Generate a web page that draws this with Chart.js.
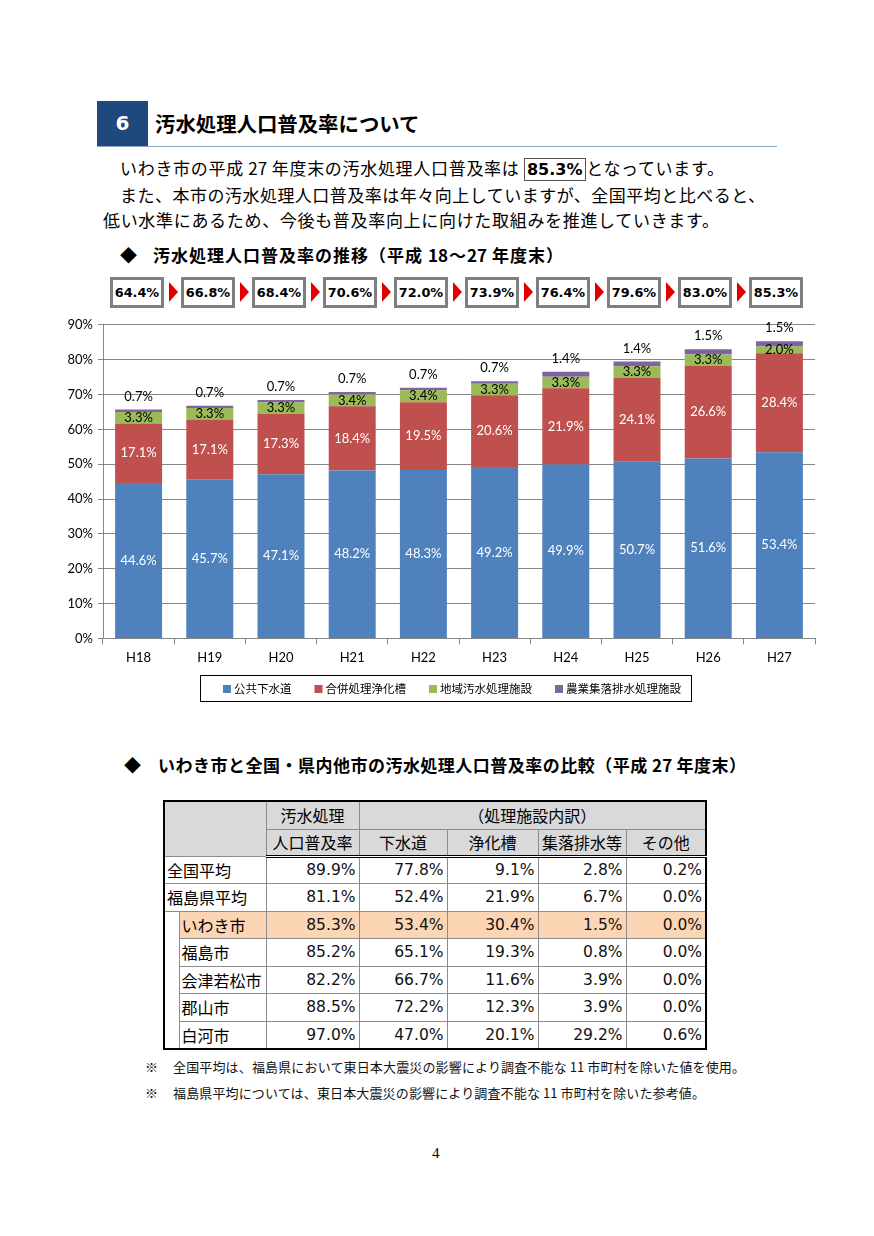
<!DOCTYPE html>
<html lang="ja">
<head>
<meta charset="UTF-8">
<title>汚水処理人口普及率について</title>
<script src="https://cdn.jsdelivr.net/npm/chart.js"></script>
<style>
  html, body { margin: 0; padding: 0; background: #fff; }
  body { width: 874px; height: 1236px; position: relative; overflow: hidden;
         font-family: "Noto Sans CJK JP", sans-serif; color: #000; }
  .abs { position: absolute; white-space: nowrap; }
  .just { text-align: justify; text-align-last: justify; white-space: normal; }
  .numbox { position: absolute; left: 97px; top: 101px; width: 51px; height: 45px; background: #1f497d;
            color: #fff; font: bold 20px "DejaVu Sans", sans-serif; text-align: center; line-height: 45px; }
  .title { left: 155px; top: 108px; font-size: 20.4px; font-weight: bold; line-height: 30px; }
  .rule { position: absolute; left: 97px; top: 146px; width: 680px; height: 0; border-top: 1.5px solid #8ea9c8; }
  .para { font-size: 17px; line-height: 24px; height: 24px; }
  .hl { font: bold 16px "DejaVu Sans", sans-serif; border: 1px solid #555; padding: 1px 2px; }
  .sub { font-size: 17px; font-weight: bold; line-height: 24px; height: 24px; }
  .tot { position: absolute; top: 277px; width: 48px; height: 25px; border: 3px solid #7f7f7f; background: #fff;
         font: bold 12.8px "DejaVu Sans", sans-serif; text-align: center; line-height: 25px; }
  .arrow { position: absolute; top: 282px; width: 0; height: 0; border-top: 10px solid transparent;
           border-bottom: 10px solid transparent; border-left: 9px solid #e00000; }
  #chartWrap { position: absolute; left: 50px; top: 312px; width: 790px; height: 395px; }
  table.cmp { position: absolute; left: 163px; top: 800px; border-collapse: collapse; border: 2px solid #000;
              font-size: 16px; table-layout: fixed; width: 542px; }
  table.cmp td { border: 1px solid #8c8c8c; padding: 0 3px; line-height: 20px; white-space: nowrap; overflow: hidden; }
  table.cmp tr { height: 27.5px; }
  table.cmp tr.h1 { height: 28px; }
  table.cmp tr.h2 { height: 27px; }
  table.cmp tr.head td { background: #d9d9d9; text-align: center; }
  table.cmp tr.h2 td { border-bottom: 3px double #000; }
  table.cmp td.n { text-align: right; font-family: "DejaVu Sans", sans-serif; font-size: 15.5px; color: #111; }
  table.cmp td.name { text-align: left; padding-left: 2px; }
  table.cmp td.ind { border-top: none; border-bottom: none; padding: 0; }
  table.cmp tr.iwaki td.c { background: #fcd5b4; }
  .note { font-size: 13px; line-height: 20px; height: 20px; color: #111; }
  .pg { left: 432px; top: 1145px; font: 15px "Liberation Serif", serif; }
</style>
</head>
<body>

<div class="numbox">6</div>
<div class="abs title">汚水処理人口普及率について</div>
<div class="rule"></div>

<div class="abs para just" style="left:120px;top:156px;width:604px;">いわき市の平成 27 年度末の汚水処理人口普及率は <span class="hl">85.3%</span>となっています。</div>
<div class="abs para just" style="left:120px;top:183px;width:645px;">また、本市の汚水処理人口普及率は年々向上していますが、全国平均と比べると、</div>
<div class="abs para just" style="left:103px;top:208px;width:616px;">低い水準にあるため、今後も普及率向上に向けた取組みを推進していきます。</div>

<div class="abs sub" style="left:120px;top:243px;">◆</div>
<div class="abs sub just" style="left:153px;top:243px;width:410px;">汚水処理人口普及率の推移（平成 18〜27 年度末）</div>

<div id="totals"></div>

<div id="chartWrap"><canvas id="chart" width="790" height="395"></canvas></div>

<div class="abs sub" style="left:124px;top:753px;">◆</div>
<div class="abs sub just" style="left:158px;top:753px;width:588px;">いわき市と全国・県内他市の汚水処理人口普及率の比較（平成 27 年度末）</div>

<table class="cmp" id="cmp">
  <colgroup>
    <col style="width:15px"><col style="width:87px"><col style="width:93px"><col style="width:88px">
    <col style="width:91px"><col style="width:88px"><col style="width:80px">
  </colgroup>
</table>

<div class="abs note" style="left:145px;top:1057px;">※</div>
<div class="abs note just" style="left:173px;top:1057px;width:572px;">全国平均は、福島県において東日本大震災の影響により調査不能な 11 市町村を除いた値を使用。</div>
<div class="abs note" style="left:145px;top:1083px;">※</div>
<div class="abs note just" style="left:173px;top:1083px;width:532px;">福島県平均については、東日本大震災の影響により調査不能な 11 市町村を除いた参考値。</div>

<div class="abs pg">4</div>

<script>
// chart data
const years = ['H18', 'H19', 'H20', 'H21', 'H22', 'H23', 'H24', 'H25', 'H26', 'H27'];
const sewer = [44.6, 45.7, 47.1, 48.2, 48.3, 49.2, 49.9, 50.7, 51.6, 53.4];
const johkaso = [17.1, 17.1, 17.3, 18.4, 19.5, 20.6, 21.9, 24.1, 26.6, 28.4];
const community = [3.3, 3.3, 3.3, 3.4, 3.4, 3.3, 3.3, 3.3, 3.3, 2.0];
const rural = [0.7, 0.7, 0.7, 0.7, 0.7, 0.7, 1.4, 1.4, 1.5, 1.5];
const totals = [64.4, 66.8, 68.4, 70.6, 72.0, 73.9, 76.4, 79.6, 83.0, 85.3];
const seriesNames = ['公共下水道', '合併処理浄化槽', '地域汚水処理施設', '農業集落排水処理施設'];

// table data
const colHeads = ['下水道', '浄化槽', '集落排水等', 'その他'];
const areas = ['全国平均', '福島県平均', 'いわき市', '福島市', '会津若松市', '郡山市', '白河市'];
const rate = [89.9, 81.1, 85.3, 85.2, 82.2, 88.5, 97.0];
const sewerRate = [77.8, 52.4, 53.4, 65.1, 66.7, 72.2, 47.0];
const tankRate = [9.1, 21.9, 30.4, 19.3, 11.6, 12.3, 20.1];
const ruralRate = [2.8, 6.7, 1.5, 0.8, 3.9, 3.9, 29.2];
const otherRate = [0.2, 0.0, 0.0, 0.0, 0.0, 0.0, 0.6];

// total boxes with arrows
const totWrap = document.getElementById('totals');
totals.forEach((v, i) => {
    const box = document.createElement('div');
    box.className = 'tot';
    box.style.left = (110 + i * 71) + 'px';
    box.textContent = v.toFixed(1) + '%';
    totWrap.appendChild(box);
    if (i > 0) {
        const ar = document.createElement('div');
        ar.className = 'arrow';
        ar.style.left = (110 + i * 71 - 12) + 'px';
        totWrap.appendChild(ar);
    }
});

// comparison table
const fmt = v => v.toFixed(1) + '%';
let html = '<tr class="head h1"><td colspan="2" rowspan="2"></td><td>汚水処理</td><td colspan="4">（処理施設内訳）</td></tr>';
html += '<tr class="head h2"><td>人口普及率</td>' + colHeads.map(h => '<td>' + h + '</td>').join('') + '</tr>';
areas.forEach((a, i) => {
    const cls = a === 'いわき市' ? ' class="iwaki"' : '';
    html += '<tr' + cls + '>';
    if (i < 2) {
        html += '<td colspan="2" class="name c">' + a + '</td>';
    } else {
        if (i === 2) html += '<td rowspan="5" class="ind"></td>';
        html += '<td class="name c">' + a + '</td>';
    }
    [rate, sewerRate, tankRate, ruralRate, otherRate].forEach(arr => {
        html += '<td class="n c">' + fmt(arr[i]) + '</td>';
    });
    html += '</tr>';
});
document.getElementById('cmp').insertAdjacentHTML('beforeend', html);

// segment value labels
const segLabels = {
    id: 'segLabels',
    afterDatasetsDraw(chart) {
        const ctx = chart.ctx;
        ctx.save();
        ctx.font = '13px Lato';
        ctx.textAlign = 'center';
        ctx.textBaseline = 'middle';
        chart.data.datasets.forEach((ds, i) => {
            const meta = chart.getDatasetMeta(i);
            meta.data.forEach((bar, j) => {
                const txt = ds.data[j].toFixed(1) + '%';
                let y = (bar.y + bar.base) / 2;
                if (i === 3) y = bar.y - 13;
                ctx.fillStyle = i < 2 ? '#ffffff' : '#000000';
                ctx.fillText(txt, bar.x, y);
            });
        });
        ctx.restore();
    }
};

// framed legend below the axis, drawn from the datasets
const boxLegend = {
    id: 'boxLegend',
    afterDraw(chart) {
        const ctx = chart.ctx;
        ctx.save();
        ctx.font = '11.5px "Noto Sans CJK JP"';
        const items = chart.data.datasets.map(ds => ({
            label: ds.label, color: ds.backgroundColor, w: ctx.measureText(ds.label).width
        }));
        const mk = 8, gapTxt = 3, gapItem = 23, padL = 23, padR = 10, h = 26;
        let inner = gapItem * (items.length - 1);
        items.forEach(it => { inner += mk + gapTxt + it.w; });
        const boxW = Math.round(padL + inner + padR);
        const left = Math.round(chart.width / 2 - boxW / 2);
        const top = Math.round(chart.chartArea.bottom + 37);
        ctx.strokeStyle = '#000';
        ctx.lineWidth = 1;
        ctx.strokeRect(left + 0.5, top + 0.5, boxW, h);
        let x = left + padL;
        const cy = top + h / 2 + 0.5;
        ctx.textBaseline = 'middle';
        ctx.textAlign = 'left';
        items.forEach(it => {
            ctx.fillStyle = it.color;
            ctx.fillRect(x, Math.round(cy - 4), mk, mk);
            x += mk + gapTxt;
            ctx.fillStyle = '#000';
            ctx.fillText(it.label, x, cy);
            x += it.w + gapItem;
        });
        ctx.restore();
    }
};

const colors = ['#4F81BD', '#C0504D', '#9BBB59', '#8064A2'];
const series = [sewer, johkaso, community, rural];

new Chart(document.getElementById('chart'), {
    type: 'bar',
    data: {
        labels: years,
        datasets: series.map((d, i) => ({
            label: seriesNames[i],
            data: d,
            backgroundColor: colors[i],
            borderWidth: 0,
            categoryPercentage: 1,
            barPercentage: 0.66
        }))
    },
    options: {
        responsive: false,
        animation: false,
        layout: { padding: { top: 12, right: 25, left: 0, bottom: 35 } },
        scales: {
            x: {
                stacked: true,
                grid: { drawOnChartArea: false, color: '#868686', tickLength: 6 },
                border: { color: '#868686' },
                ticks: { color: '#000', font: { family: 'Lato', size: 13 }, padding: 6 }
            },
            y: {
                stacked: true,
                min: 0,
                max: 90,
                ticks: { stepSize: 10, color: '#000', font: { family: 'Lato', size: 13 }, padding: 5,
                         callback: v => v + '%' },
                grid: { color: '#868686', tickLength: 5 },
                border: { color: '#868686' },
                afterFit(scale) { scale.width = 53; }
            }
        },
        plugins: {
            legend: { display: false },
            tooltip: { enabled: false }
        }
    },
    plugins: [segLabels, boxLegend]
});
</script>
</body>
</html>
